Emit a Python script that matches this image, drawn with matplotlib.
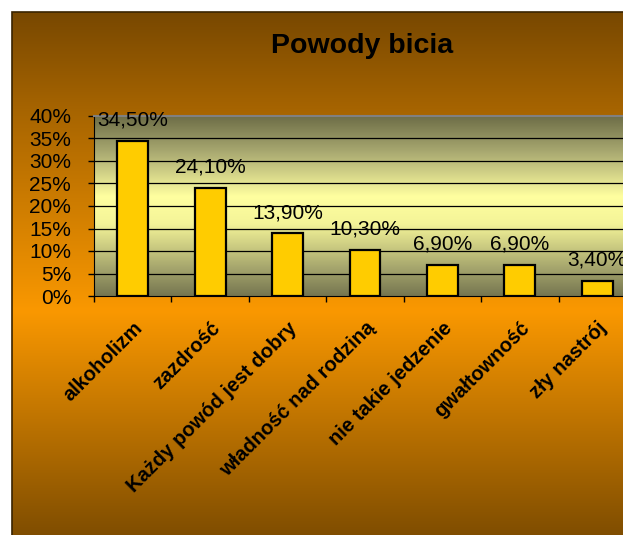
import numpy as np
import matplotlib
matplotlib.use("Agg")
import matplotlib.pyplot as plt
from matplotlib.colors import LinearSegmentedColormap
from matplotlib.patches import Rectangle

plt.rcParams['font.family'] = ['Liberation Sans', 'DejaVu Sans']

# --- data ---
categories = ["alkoholizm", "zazdrość", "Każdy powód jest dobry", "władność nad rodziną",
              "nie takie jedzenie", "gwałtowność", "zły nastrój"]
values = [34.5, 24.1, 13.9, 10.3, 6.9, 6.9, 3.4]
value_labels = ["34,50%", "24,10%", "13,90%", "10,30%", "6,90%", "6,90%", "3,40%"]
y_ticks = [0, 5, 10, 15, 20, 25, 30, 35, 40]
y_tick_labels = ["0%", "5%", "10%", "15%", "20%", "25%", "30%", "35%", "40%"]

W, H = 623, 535
fig = plt.figure(figsize=(W / 100, H / 100), dpi=100)
fig.patch.set_facecolor("white")

# --- chart area background (dark brown -> orange -> dark brown) ---
bg = fig.add_axes([12 / W, -0.02, 1.02, (H - 12) / H + 0.02])
bg_cmap = LinearSegmentedColormap.from_list(
    "bg", [(0.0, "#784800"), (0.18, "#A66400"), (0.56, "#FA9800"), (1.0, "#7A4A00")])
grad = np.linspace(0, 1, 256).reshape(-1, 1)
bg.imshow(grad, aspect="auto", cmap=bg_cmap, extent=[0, 1, 0, 1], origin="upper")
bg.set_xlim(0, 1)
bg.set_ylim(0, 1)
bg.axis("off")
fig.add_artist(Rectangle((12 / W, -0.05), 1.1, (H - 12) / H + 0.05, transform=fig.transFigure,
                         fill=False, edgecolor="#3a2400", linewidth=1.2, zorder=5))

fig.text(362 / W, 1 - 46 / H, "Powody bicia", ha="center", va="center",
         fontsize=20.5, fontweight="bold")

# --- plot area ---
left, right = 94 / W, 636 / W
top, bottom = 1 - 116 / H, 1 - 296 / H
ax = fig.add_axes([left, bottom, right - left, top - bottom])
ax.set_xlim(-0.5, len(categories) - 0.5)
ax.set_ylim(0, 40)

pa_cmap = LinearSegmentedColormap.from_list(
    "pa", [(0.0, "#6C6C46"), (0.2, "#A8A870"), (0.45, "#FFFFA0"), (0.6, "#F4F498"),
           (0.85, "#A4A46C"), (1.0, "#767650")])
ax.imshow(grad, aspect="auto", cmap=pa_cmap, extent=[-0.5, len(categories) - 0.5, 0, 40],
          origin="upper", zorder=0)

for t in y_ticks[1:-1]:
    ax.axhline(t, color="black", linewidth=0.9, zorder=1)

x = np.arange(len(categories))
bars = ax.bar(x, values, width=0.4, color="#FFCC00", edgecolor="black", linewidth=1.6, zorder=3)
for xi, v, lab in zip(x, values, value_labels):
    ax.annotate(lab, (xi, v), xytext=(0, 8), textcoords="offset points",
                ha="center", va="bottom", fontsize=15, zorder=4)

ax.set_yticks(y_ticks)
ax.set_yticklabels(y_tick_labels, fontsize=15)
ax.set_xticks(np.arange(len(categories) + 1) - 0.5)
ax.set_xticklabels([])
ax.set_xticks(x, minor=True)
ax.set_xticklabels(categories, minor=True, rotation=45, ha="right", va="top",
                   rotation_mode="anchor", fontsize=14.5, fontweight="bold")
ax.tick_params(axis="x", which="minor", length=0, pad=16)
ax.tick_params(axis="both", which="major", direction="out", length=4.5, width=1, color="black")
ax.tick_params(axis="y", pad=12)

ax.spines["left"].set_color("black")
ax.spines["bottom"].set_color("black")
ax.spines["top"].set_color("#808080")
ax.spines["top"].set_linewidth(1.5)
ax.spines["right"].set_visible(False)

fig.savefig("out.png", dpi=100)
